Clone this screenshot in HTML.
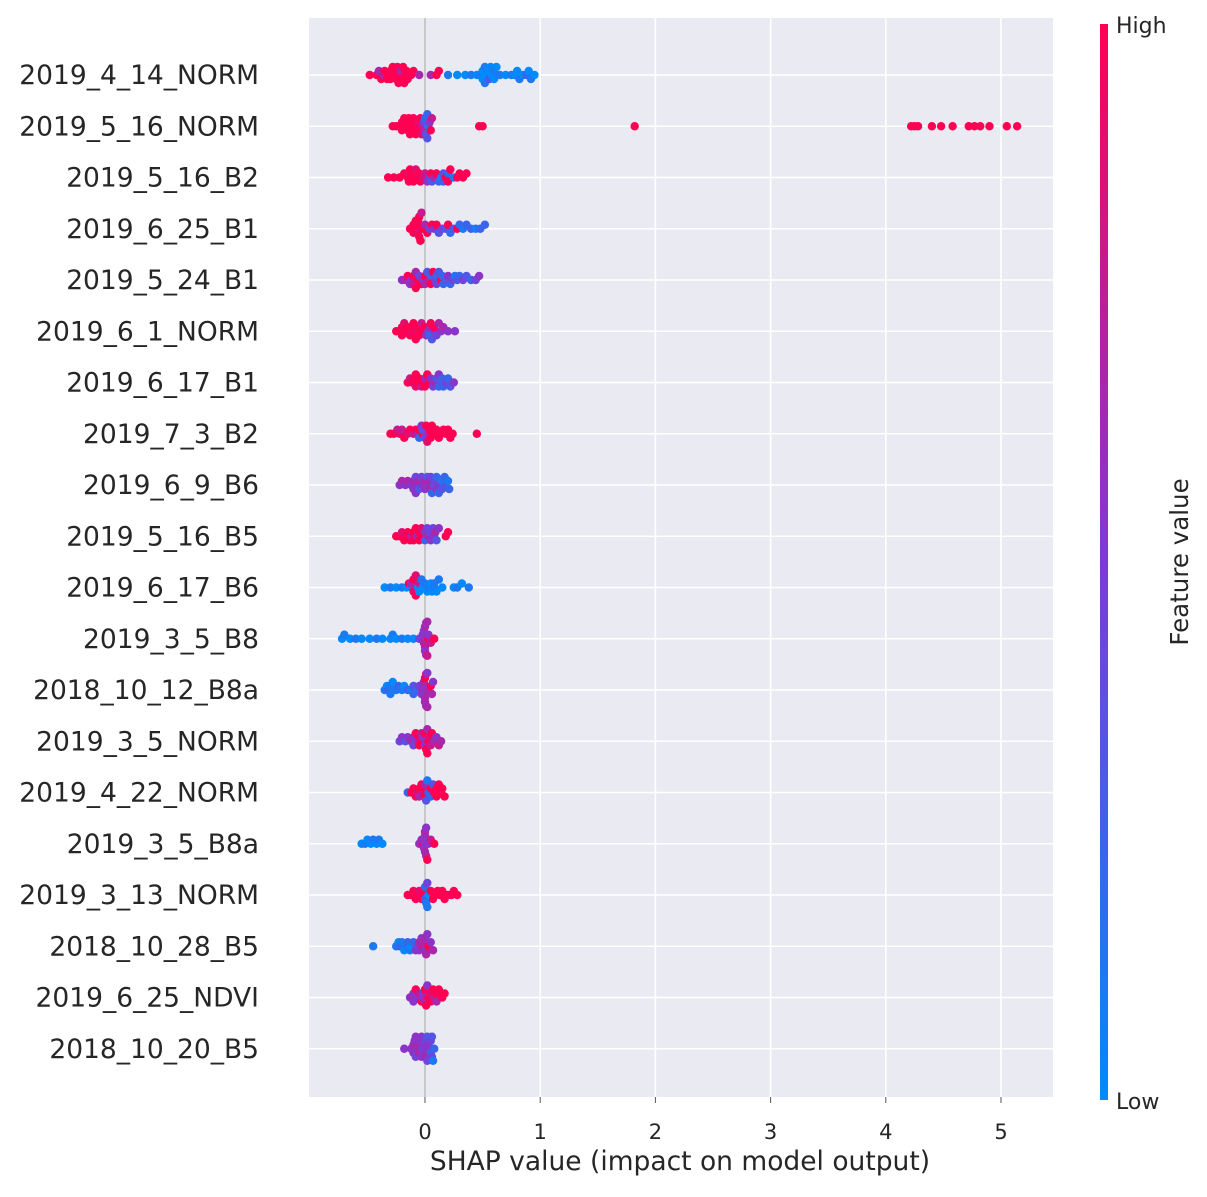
<!DOCTYPE html>
<html><head><meta charset="utf-8"><style>
body{margin:0;background:#fff;}
svg text{font-family:"DejaVu Sans","Liberation Sans",sans-serif;fill:#262626;}
</style></head><body>
<svg id="chart" width="1207" height="1192" xmlns="http://www.w3.org/2000/svg">
<defs><linearGradient id="cb" x1="0" y1="1" x2="0" y2="0">
<stop offset="0" stop-color="#008afb"/><stop offset="0.5" stop-color="#7e3ad8"/><stop offset="1" stop-color="#ff0052"/>
</linearGradient></defs>
<rect x="309" y="18" width="744" height="1079" fill="#eaeaf2"/>
<g id="grid"></g>
<g id="dots"></g>
<g id="labels"></g>
<rect x="1100" y="24" width="8" height="1076" fill="url(#cb)"/>
<text x="1116" y="33" font-size="22">High</text>
<text x="1116" y="1109" font-size="22">Low</text>
<text x="0" y="0" font-size="24.5" text-anchor="middle" transform="translate(1188,562) rotate(-90)">Feature value</text>
<text x="680" y="1170" font-size="26.5" text-anchor="middle">SHAP value (impact on model output)</text>
</svg>
<script>
const features=["2019_4_14_NORM","2019_5_16_NORM","2019_5_16_B2","2019_6_25_B1","2019_5_24_B1","2019_6_1_NORM","2019_6_17_B1","2019_7_3_B2","2019_6_9_B6","2019_5_16_B5","2019_6_17_B6","2019_3_5_B8","2018_10_12_B8a","2019_3_5_NORM","2019_4_22_NORM","2019_3_5_B8a","2019_3_13_NORM","2018_10_28_B5","2019_6_25_NDVI","2018_10_20_B5"];
const xTicks=[0,1,2,3,4,5];
const rowData=[
"-0.48:9 -0.42:9 -0.38:9 -0.35:9 -0.33:9 -0.3:9 -0.28:9 -0.27:9 -0.25:9 -0.24:9 -0.22:9 -0.2:9 -0.19:9 -0.18:9 -0.16:9 -0.15:9 -0.12:9 -0.1:9 -0.3:9 -0.32:9 -0.36:6 -0.26:9 -0.23:9 -0.21:6 -0.17:9 -0.4:6 -0.05:6 0.05:6 0.1:9 0.12:9 0.2:1 0.28:0 0.35:0 0.4:1 0.45:0 0.48:1 0.5:0 0.52:1 0.55:0 0.56:3 0.58:0 0.6:1 0.62:0 0.65:1 0.7:0 0.75:1 0.78:0 0.8:0 0.82:1 0.85:0 0.88:2 0.9:0 0.92:1 0.95:0 0.55:0 0.6:0 0.52:1 0.5:0 0.57:0",
"-0.28:9 -0.25:9 -0.22:9 -0.2:9 -0.18:9 -0.16:9 -0.15:9 -0.13:9 -0.12:9 -0.1:9 -0.08:9 -0.06:8 -0.05:9 -0.03:8 -0.02:7 0:6 0.01:3 0.02:2 0.03:1 0.04:5 0.05:9 0.06:7 -0.1:9 -0.14:9 -0.2:9 -0.17:9 -0.11:9 -0.07:9 -0.04:9 -0.01:4 0:2 0.02:3 0.47:9 0.5:9 1.82:9 4.22:9 4.25:9 4.28:9 4.4:9 4.48:9 4.58:9 4.72:9 4.77:9 4.82:9 4.9:9 5.05:9 5.14:9",
"-0.32:9 -0.27:9 -0.22:9 -0.18:9 -0.15:9 -0.14:8 -0.13:9 -0.12:9 -0.1:9 -0.08:8 -0.06:9 -0.04:9 -0.02:8 0:7 0.02:5 0.04:4 0.06:3 0.08:6 0.1:9 0.12:2 0.14:1 0.16:3 0.18:9 0.2:2 0.22:9 0.25:1 0.28:9 0.3:9 0.33:9 0.36:9 -0.14:9 -0.12:9 0.16:2 0.2:9 -0.05:9 0.05:9",
"-0.13:9 -0.11:9 -0.1:9 -0.08:9 -0.07:9 -0.06:8 -0.05:9 -0.04:9 -0.03:7 -0.02:9 0:6 0.02:9 0.04:4 0.06:9 0.08:5 0.1:9 0.12:3 0.15:4 0.18:3 0.2:9 0.22:2 0.25:3 0.28:9 0.3:2 0.33:1 0.36:2 0.4:2 0.44:1 0.48:2 0.52:2 -0.06:9 -0.07:9 -0.05:9 -0.1:9",
"-0.2:5 -0.17:6 -0.15:9 -0.12:5 -0.1:9 -0.08:6 -0.06:9 -0.05:4 -0.03:9 -0.02:5 0:9 0.02:3 0.03:7 0.05:2 0.07:9 0.09:4 0.1:2 0.12:3 0.14:9 0.16:2 0.18:3 0.2:5 0.22:2 0.24:4 0.26:1 0.28:3 0.3:2 0.33:4 0.36:3 0.4:2 0.44:4 0.47:5 -0.08:9 -0.1:7 0:6 0.05:9 -0.13:5 0.1:4 0.15:2",
"-0.25:9 -0.22:9 -0.2:9 -0.18:8 -0.16:9 -0.15:9 -0.13:9 -0.12:8 -0.1:9 -0.08:9 -0.07:8 -0.05:9 -0.03:7 -0.02:9 0:9 0.01:5 0.03:4 0.04:6 0.06:3 0.08:5 0.1:4 0.12:6 0.14:5 0.16:6 0.2:5 0.26:5 -0.2:9 -0.12:9 -0.05:9 0.05:9 0.08:9 -0.1:9 0.04:2",
"-0.15:9 -0.13:7 -0.11:9 -0.1:9 -0.08:8 -0.06:9 -0.05:9 -0.03:7 -0.02:9 0:6 0.02:9 0.04:9 0.05:5 0.07:4 0.09:6 0.1:3 0.12:2 0.14:3 0.16:2 0.18:4 0.2:2 0.22:3 0.25:5 -0.08:9 0:9 0.12:5 0.15:2",
"-0.3:9 -0.27:9 -0.24:7 -0.22:8 -0.2:7 -0.18:9 -0.15:8 -0.13:9 -0.1:7 -0.08:9 -0.06:6 -0.05:9 -0.03:5 -0.02:9 0:4 0.01:9 0.03:6 0.04:9 0.06:9 0.08:9 0.1:9 0.12:9 0.14:9 0.16:9 0.18:9 0.2:9 0.22:9 0.24:9 0.45:9 -0.05:2 -0.02:3 0.02:8 0.05:9",
"-0.22:5 -0.2:6 -0.17:5 -0.15:6 -0.12:5 -0.1:6 -0.08:4 -0.06:5 -0.05:6 -0.03:4 -0.02:5 0:6 0.02:3 0.03:5 0.05:6 0.06:2 0.08:3 0.1:5 0.12:2 0.14:4 0.15:1 0.17:2 0.18:3 0.2:1 0.21:2 -0.08:5 -0.05:3 0:5 0.05:4 0.1:2 0.15:3 -0.1:5 0.04:6 0.08:4",
"-0.25:9 -0.22:9 -0.2:8 -0.18:9 -0.15:9 -0.13:9 -0.12:7 -0.1:9 -0.08:9 -0.07:6 -0.05:9 -0.03:8 -0.02:9 0:5 0.02:4 0.03:6 0.05:5 0.07:4 0.09:6 0.1:3 0.12:5 0.18:9 0.2:9 -0.15:9 -0.1:9 -0.05:9 0:2 0.04:4 0.08:5",
"-0.35:0 -0.3:1 -0.25:0 -0.2:1 -0.16:0 -0.14:9 -0.12:1 -0.1:8 -0.08:9 -0.06:0 -0.05:7 -0.03:1 -0.02:0 0:1 0.02:0 0.04:1 0.06:0 0.08:1 0.1:0 0.12:1 0.15:0 0.25:0 0.28:1 0.32:0 0.38:1 -0.1:9 -0.08:8 -0.05:0 0.05:0 0.08:1 -0.12:6",
"-0.72:0 -0.7:1 -0.65:0 -0.6:1 -0.55:0 -0.48:0 -0.42:1 -0.37:0 -0.3:0 -0.28:1 -0.25:0 -0.2:1 -0.15:0 -0.1:0 -0.05:4 -0.02:5 -0.01:6 0:7 0.01:5 0.02:6 0.03:9 0.05:7 0.08:9 -0.02:5 0:6 0.02:7 -0.01:5 0.01:6 0.03:5 0:5",
"-0.35:1 -0.33:0 -0.32:2 -0.3:1 -0.28:0 -0.25:1 -0.23:2 -0.2:1 -0.18:0 -0.15:2 -0.12:1 -0.1:3 -0.07:2 -0.05:4 -0.03:5 -0.02:6 -0.01:5 0:6 0.01:7 0.02:5 0.03:6 0.05:9 0.06:6 0.07:5 -0.02:5 0:9 0.02:6 -0.01:6 0.01:5 0:6 -0.3:1 -0.1:2",
"-0.22:4 -0.2:5 -0.17:3 -0.15:5 -0.12:6 -0.1:5 -0.08:9 -0.06:5 -0.05:9 -0.03:7 -0.02:9 0:5 0.01:9 0.02:6 0.03:9 0.05:7 0.06:9 0.08:6 0.1:5 0.12:7 0.14:6 -0.05:9 0:9 0.04:8 -0.02:5 0.02:9 -0.1:4",
"-0.15:2 -0.12:9 -0.1:9 -0.08:9 -0.07:8 -0.05:9 -0.03:9 -0.02:7 0:9 0.01:3 0.02:1 0.03:2 0.05:9 0.07:3 0.08:9 0.1:9 0.12:9 0.14:9 0.15:9 0.17:9 -0.05:6 0:6 -0.02:9 0.05:2 0.1:9",
"-0.55:0 -0.52:1 -0.5:0 -0.47:0 -0.45:1 -0.42:0 -0.4:1 -0.37:0 -0.05:5 -0.03:6 -0.02:9 0:5 0.01:6 0.02:9 0.03:5 0.05:7 0.08:9 -0.02:5 0:6 0.01:5 0:6 -0.01:5",
"-0.15:9 -0.12:9 -0.1:9 -0.08:9 -0.06:9 -0.05:8 -0.03:9 -0.02:9 0:3 0.01:1 0.02:4 0.03:0 0.05:9 0.07:9 0.09:9 0.11:9 0.13:9 0.15:9 0.17:9 0.2:9 0.23:9 0.25:9 0.28:9 0:2 -0.02:9 0.02:1",
"-0.45:1 -0.25:1 -0.23:0 -0.22:2 -0.2:1 -0.18:0 -0.16:1 -0.15:2 -0.13:1 -0.12:0 -0.1:2 -0.08:5 -0.06:4 -0.05:6 -0.03:5 -0.02:7 0:5 0.01:6 0.03:9 0.05:5 0.07:6 -0.05:5 0:6 0.02:5 -0.02:6",
"-0.13:5 -0.11:6 -0.1:5 -0.08:9 -0.06:5 -0.05:7 -0.03:9 -0.02:5 0:6 0.01:9 0.02:5 0.03:9 0.05:8 0.07:9 0.08:7 0.1:9 0.12:9 0.15:9 0.17:9 -0.1:5 0:9 0.05:9 -0.02:5 0.1:6",
"-0.18:5 -0.12:5 -0.1:6 -0.09:5 -0.08:4 -0.06:5 -0.05:6 -0.03:5 -0.02:4 0:5 0.01:6 0.02:3 0.03:5 0.05:2 0.06:4 0.07:1 0.08:2 -0.1:5 -0.05:5 0:5 0.05:4 -0.08:5 0.02:4 -0.03:5 0.06:3 -0.06:6 0:4 0.03:5"
];
const NS="http://www.w3.org/2000/svg";
const x0=425, pxPerUnit=115.2, rowTop=75, rowStep=51.25;
function xs(v){return x0+v*pxPerUnit;}
function ys(i){return rowTop+i*rowStep;}
function mk(tag,attrs,parent){const e=document.createElementNS(NS,tag);for(const k in attrs)e.setAttribute(k,attrs[k]);parent.appendChild(e);return e;}
function color(f){
  const t=f/9, lo=[0,138,251], mid=[126,58,216], hi=[255,0,82];
  let a,b,u; if(t<0.5){a=lo;b=mid;u=t/0.5;}else{a=mid;b=hi;u=(t-0.5)/0.5;}
  return `rgb(${a.map((c,i)=>Math.round(c+(b[i]-c)*u)).join(',')})`;
}
const grid=document.getElementById('grid'), dots=document.getElementById('dots'), labels=document.getElementById('labels');
xTicks.forEach(t=>{
  const l=mk('line',{x1:xs(t),x2:xs(t),y1:18,y2:1097,stroke:'#fff','stroke-width':1.6},grid);
  
  
  const tk=mk('line',{x1:xs(t),x2:xs(t),y1:1097,y2:1103,stroke:'#555','stroke-width':1},grid);
  
  
  const tx=mk('text',{x:xs(t),y:1139,'font-size':21,'text-anchor':'middle'},labels);
  tx.textContent=t;
  
  
});
features.forEach((f,i)=>{
  const l=mk('line',{x1:309,x2:1053,y1:ys(i),y2:ys(i),stroke:'#fff','stroke-width':1.6},grid);
  
  
  const tx=mk('text',{x:259,y:ys(i)+9,'font-size':26.5,'text-anchor':'end'},labels);
  tx.textContent=f;
  
  
});
const zl=mk('line',{x1:x0,x2:x0,y1:18,y2:1097,stroke:'#999','stroke-width':1},grid);


rowData.forEach((s,i)=>{
  const pts=s.split(' ').map(p=>{const [v,c]=p.split(':');return {v:+v,c:+c};}).sort((a,b)=>a.v-b.v);
  const counts={};
  pts.forEach(p=>{
    const b=Math.round(p.v/0.05); const k=counts[b]||0; counts[b]=k+1;
    const off=Math.min(17,Math.ceil(k/2)*4)*(k%2?-1:1);
    const c=mk('circle',{cx:xs(p.v),cy:ys(i)+off,r:4.2,fill:color(p.c)},dots);
    
    
  });
});
</script>
</body></html>
